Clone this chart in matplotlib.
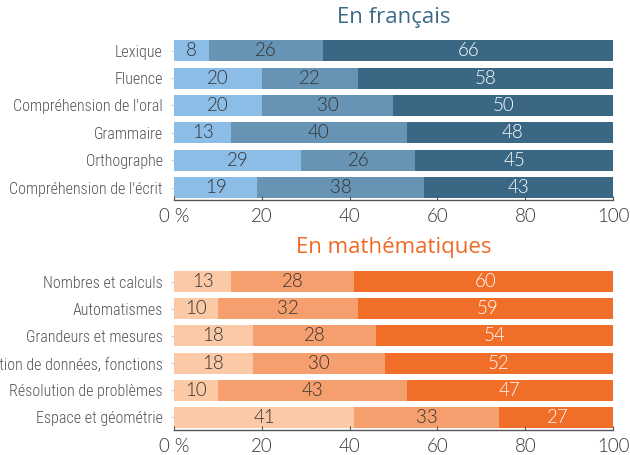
import matplotlib.pyplot as plt
import numpy as np

fr_labels = ["Lexique", "Fluence", "Compréhension de l'oral", "Grammaire",
             "Orthographe", "Compréhension de l'écrit"]
fr_low = [8, 20, 20, 13, 29, 19]
fr_mid = [26, 22, 30, 40, 26, 38]
fr_high = [66, 58, 50, 48, 45, 43]

ma_labels = ["Nombres et calculs", "Automatismes", "Grandeurs et mesures",
             "Organisation et gestion de données, fonctions",
             "Résolution de problèmes", "Espace et géométrie"]
ma_low = [13, 10, 18, 18, 10, 41]
ma_mid = [28, 32, 28, 30, 43, 33]
ma_high = [60, 59, 54, 52, 47, 27]

xticks = [0, 20, 40, 60, 80, 100]
xticklabels = ["0 %", "20", "40", "60", "80", "100"]

blues = ["#8cbde6", "#6794b5", "#3a6884"]
oranges = ["#fbc9a6", "#f59e6e", "#f06e28"]

label_font = ["Roboto Condensed", "Archivo Narrow", "DejaVu Sans"]
num_font = ["Lato", "DejaVu Sans"]

fig = plt.figure(figsize=(6.3, 4.55), dpi=100)
ax1 = fig.add_axes([0.2762, 0.5604, 0.6968, 0.3554])
ax2 = fig.add_axes([0.2762, 0.0556, 0.6968, 0.3525])


def draw_panel(ax, labels, low, mid, high, colors):
    y = np.arange(len(labels))
    left = np.zeros(len(labels))
    for vals, col, tcol in zip([low, mid, high], colors, ["#333333", "#333333", "white"]):
        vals = np.array(vals, dtype=float)
        ax.barh(y, vals, left=left, height=0.77, color=col, linewidth=0)
        for yi, l, v in zip(y, left, vals):
            ax.text(l + v / 2, yi, f"{v:.0f}", ha="center", va="center",
                    color=tcol, fontsize=13.5, family=num_font, fontweight=300)
        left += vals
    ax.set_xlim(0, 100)
    ax.set_ylim(len(labels) - 1 + 0.45, -0.45)
    ax.set_yticks(y)
    ax.set_yticklabels(labels, family=label_font, fontsize=11.5, color="#555555",
                       fontweight=300)
    ax.set_xticks(xticks)
    ax.set_xticklabels(xticklabels, family=num_font, fontsize=13.5, color="#333333",
                       fontweight=300)
    ax.tick_params(axis="x", direction="in", length=3, color="#555555", pad=6)
    ax.tick_params(axis="y", length=2, color="#cccccc", pad=6)
    for s in ["top", "right", "left"]:
        ax.spines[s].set_visible(False)
    ax.spines["bottom"].set_color("#555555")
    ax.spines["bottom"].set_linewidth(1.0)


draw_panel(ax1, fr_labels, fr_low, fr_mid, fr_high, blues)
draw_panel(ax2, ma_labels, ma_low, ma_mid, ma_high, oranges)

cx = 393.5 / 630
fig.text(cx, 1 - 18 / 455, "En français", ha="center", va="center",
         fontsize=16, color="#3e6a88", family=["Open Sans", "DejaVu Sans"])
fig.text(cx, 1 - 247 / 455, "En mathématiques", ha="center", va="center",
         fontsize=16, color="#ee6a24", family=["Open Sans", "DejaVu Sans"])

fig.savefig("out.png", dpi=100)
